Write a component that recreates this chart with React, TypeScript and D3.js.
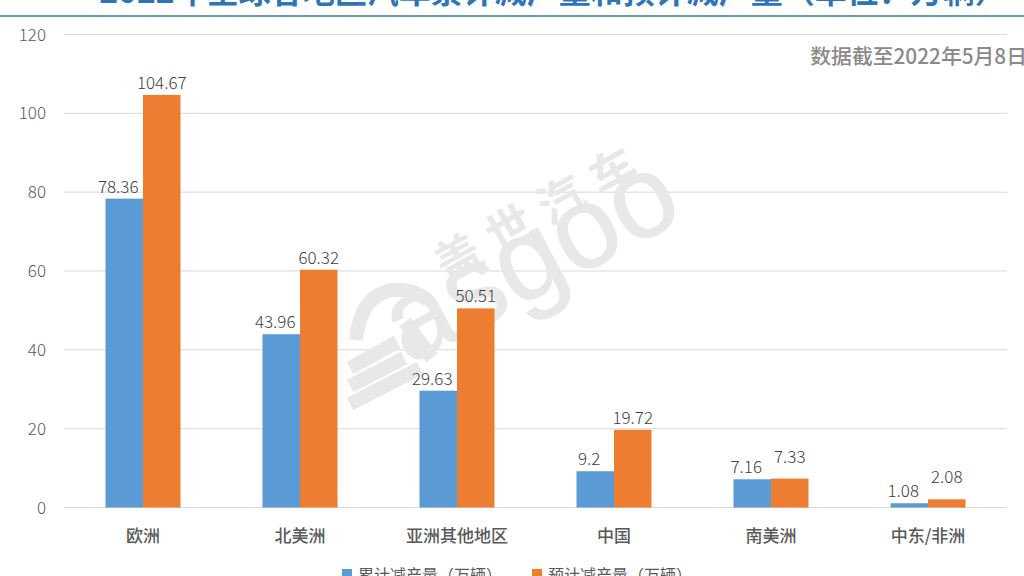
import React from "react";
import * as d3 from "d3";

const title = "2022年全球各地区汽车累计减产量和预计减产量（单位：万辆）";
const note = "数据截至2022年5月8日";
const categories = ["欧洲", "北美洲", "亚洲其他地区", "中国", "南美洲", "中东/非洲"];
const cumulative = [78.36, 43.96, 29.63, 9.2, 7.16, 1.08];
const forecast = [104.67, 60.32, 50.51, 19.72, 7.33, 2.08];
const yTicks = [0, 20, 40, 60, 80, 100, 120];
const seriesNames = ["累计减产量（万辆）", "预计减产量（万辆）"];
const seriesColors = ["#5b9bd5", "#ed7d31"];

const FONT = "'Noto Sans CJK SC', 'Noto Sans', sans-serif";

export default function App() {
  const x = d3.scaleBand<string>().domain(categories).range([64.5, 1006.5]);
  const y = d3.scaleLinear().domain([0, 120]).range([507.5, 34.5]);
  const inner = d3.scaleBand<number>().domain([0, 1]).range([0, 75]);
  const series = [cumulative, forecast];
  const wm = "#e8e8e8";
  return (
    <svg
      width={1024}
      height={576}
      viewBox="0 0 1024 576"
      style={{ position: "fixed", left: 0, top: 0, background: "#fff" }}
      fontFamily={FONT}
    >
      <text x={553} y={3} textAnchor="middle" fontSize={32} fontWeight={700} fill="#2e75b6">{title}</text>
      <line x1={0} x2={1024} y1={16} y2={16} stroke="#3f7a96" strokeWidth={1.5} />

      {yTicks.map((t) => (
        <g key={t}>
          <line x1={64} x2={1007} y1={y(t)} y2={y(t)} stroke="#d9d9d9" strokeWidth={1} />
          <text x={46} y={y(t) + 6} textAnchor="end" fontSize={17} fontWeight={300} fill="#595959">{t}</text>
        </g>
      ))}

      <g fill={wm}>
        <text transform="translate(408,366) rotate(-28)" fontFamily="'Liberation Sans', sans-serif" fontSize={116} stroke={wm} strokeWidth={1}>asgoo</text>
        <text transform="translate(446,283) rotate(-29)" fontSize={46} fontWeight={700} letterSpacing={13}>盖世汽车</text>
        <g fill="none" stroke={wm} strokeWidth={14}>
          <path d="M 356 340 Q 360 296 392 290 Q 412 288 428 300" />
          <line x1={350} x2={397} y1={368} y2={342} />
          <line x1={350} x2={404} y1={386} y2={358} />
          <line x1={350} x2={420} y1={404} y2={368} />
          <line x1={405} x2={432} y1={322} y2={358} />
        </g>
      </g>

      <text x={1027} y={64} textAnchor="end" fontSize={20.8} fontWeight={500} fill="#8a8a8a">{note}</text>

      {categories.map((c, i) => {
        const left = (x(c) as number) + x.bandwidth() / 2 - 37.5;
        const close = Math.abs(y(cumulative[i]) - y(forecast[i])) < 20;
        return (
          <g key={c}>
            {series.map((s, k) => (
              <g key={k}>
                <rect
                  x={left + (inner(k) as number)}
                  y={y(s[i])}
                  width={inner.bandwidth()}
                  height={y(0) - y(s[i])}
                  fill={seriesColors[k]}
                />
                <text
                  x={left + (inner(k) as number) + inner.bandwidth() / 2 - (k === 0 ? 6 : 0)}
                  y={y(s[i]) - 6 - (k === 1 && close ? 10 : 0)}
                  textAnchor="middle"
                  fontSize={17}
                  fontWeight={300}
                  fill="#404040"
                >
                  {s[i]}
                </text>
              </g>
            ))}
            <text
              x={(x(c) as number) + x.bandwidth() / 2}
              y={542}
              textAnchor="middle"
              fontSize={17}
              fontWeight={500}
              fill="#595959"
            >
              {c}
            </text>
          </g>
        );
      })}

      {seriesNames.map((n, k) => (
        <g key={n} transform={`translate(${342 + k * 190},0)`}>
          <rect x={0} y={569} width={10} height={10} fill={seriesColors[k]} />
          <text x={16} y={581} fontSize={16} fill="#595959">{n}</text>
        </g>
      ))}
    </svg>
  );
}
